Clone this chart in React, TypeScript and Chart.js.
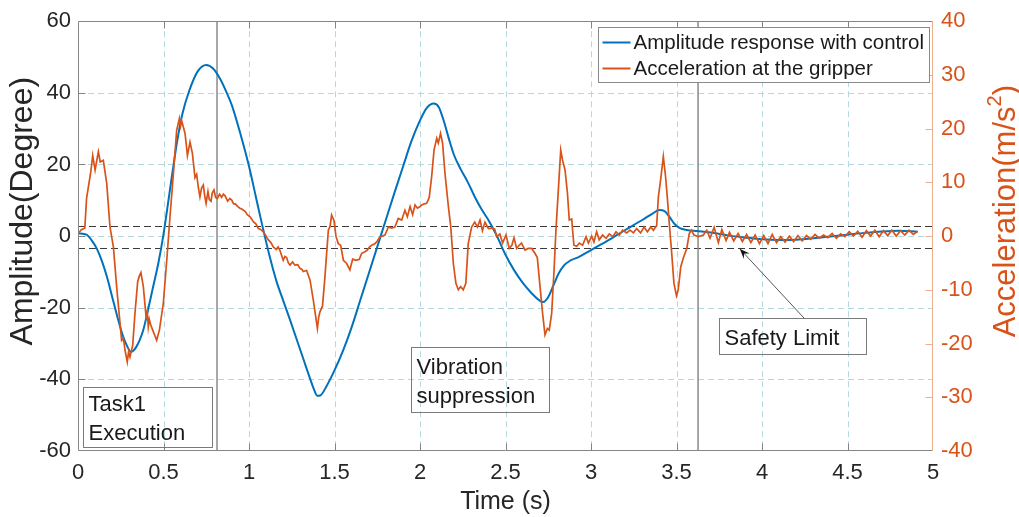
import React, { useEffect, useRef } from 'react';
import { Chart, registerables } from 'chart.js';

Chart.register(...registerables);

const FONT = '"Liberation Sans", Arial, Helvetica, sans-serif';
const BLUE = '#0072BD';
const ORANGE = '#D95319';
const TEXT = '#262626';

// ---- data ----
const seriesLabels = ['Amplitude response with control', 'Acceleration at the gripper'];

const ampTime = [
  0, 0.05, 0.08, 0.11, 0.14, 0.17, 0.20, 0.23, 0.26, 0.29,
  0.31, 0.34, 0.38, 0.41, 0.44, 0.47, 0.50, 0.52, 0.55, 0.58,
  0.61, 0.65, 0.70, 0.75, 0.79, 0.83, 0.87, 0.90, 0.95, 1.00,
  1.04, 1.08, 1.12, 1.16, 1.20, 1.24, 1.28, 1.32, 1.35, 1.38,
  1.40, 1.42, 1.45, 1.50, 1.55, 1.60, 1.65, 1.70, 1.75, 1.80,
  1.85, 1.90, 1.95, 2.00, 2.04, 2.08, 2.11, 2.14, 2.17, 2.20,
  2.24, 2.28, 2.32, 2.36, 2.40, 2.45, 2.50, 2.55, 2.60, 2.65,
  2.70, 2.72, 2.75, 2.78, 2.81, 2.84, 2.88, 2.93, 3.00, 3.10,
  3.20, 3.30, 3.36, 3.40, 3.43, 3.46, 3.49, 3.52, 3.56, 3.62,
  3.70, 3.80, 3.90, 4.00, 4.10, 4.20, 4.30, 4.40, 4.50, 4.60,
  4.70, 4.80, 4.91,
];
const ampValues = [
  0.8, 0.4, -1.2, -3.5, -7, -11.5, -17, -22.5, -27.5, -31,
  -32.3, -31, -26.5, -20.5, -14, -7.5, 0.5, 7, 17, 26.5,
  34, 40.5, 46, 47.8, 46.8, 44, 40, 36.5, 28.5, 19.5,
  11, 2.5, -5.5, -12.5, -18, -23.4, -29, -34.6, -38.8, -42.8,
  -44.6, -44.4, -42.2, -37.5, -32, -25.5, -18, -10.5, -3, 4.5,
  12, 19.3, 26.5, 32.3, 35.8, 37, 36, 32, 27, 22.5,
  18.5, 15, 11, 7.5, 4.5, 0, -5.2, -9.5, -13, -15.8,
  -18, -18.4, -17, -13.8, -10.5, -8.3, -6.8, -5.8, -3.9, -1.2,
  1.7, 4.5, 6.3, 7.3, 7.0, 5.3, 3.3, 2.2, 1.7, 1.4,
  1.0, 0.2, -0.4, -0.9, -1.1, -1.0, -0.6, -0.1, 0.4, 0.9,
  1.3, 1.5, 1.2,
];

const accTime = [
  0.00, 0.02, 0.04, 0.05, 0.06, 0.075, 0.086, 0.10, 0.119, 0.13,
  0.148, 0.168, 0.187, 0.207, 0.226, 0.255, 0.265, 0.275, 0.288, 0.296,
  0.304, 0.32, 0.333, 0.349, 0.358, 0.368, 0.382, 0.398, 0.405, 0.411,
  0.417, 0.425, 0.437, 0.46, 0.476, 0.499, 0.519, 0.538, 0.558, 0.577,
  0.593, 0.6, 0.606, 0.626, 0.64, 0.655, 0.669, 0.684, 0.694, 0.704,
  0.713, 0.723, 0.733, 0.741, 0.749, 0.76, 0.768, 0.778, 0.785, 0.795,
  0.805, 0.815, 0.828, 0.84, 0.85, 0.86, 0.875, 0.888, 0.899, 0.91,
  0.92, 0.935, 0.947, 0.96, 0.977, 0.99, 1.006, 1.015, 1.025, 1.04,
  1.055, 1.07, 1.084, 1.1, 1.113, 1.128, 1.142, 1.16, 1.17, 1.18,
  1.2, 1.21, 1.22, 1.23, 1.24, 1.255, 1.268, 1.285, 1.298, 1.31,
  1.317, 1.337, 1.357, 1.376, 1.39, 1.4, 1.408, 1.415, 1.43, 1.444,
  1.464, 1.474, 1.483, 1.497, 1.509, 1.522, 1.536, 1.552, 1.571, 1.59,
  1.606, 1.626, 1.645, 1.659, 1.678, 1.692, 1.705, 1.717, 1.732, 1.747,
  1.766, 1.78, 1.795, 1.815, 1.834, 1.853, 1.873, 1.893, 1.912, 1.926,
  1.942, 1.957, 1.971, 1.985, 2.0, 2.01, 2.025, 2.039, 2.054, 2.068,
  2.082, 2.098, 2.107, 2.12, 2.132, 2.146, 2.166, 2.18, 2.195, 2.21,
  2.224, 2.238, 2.253, 2.268, 2.282, 2.302, 2.32, 2.336, 2.351, 2.365,
  2.38, 2.4, 2.418, 2.437, 2.448, 2.467, 2.483, 2.503, 2.522, 2.537,
  2.55, 2.565, 2.58, 2.594, 2.614, 2.633, 2.653, 2.672, 2.686, 2.702,
  2.717, 2.731, 2.745, 2.756, 2.77, 2.784, 2.795, 2.809, 2.823, 2.834,
  2.848, 2.862, 2.873, 2.887, 2.9, 2.916, 2.932, 2.951, 2.971, 2.985,
  3.004, 3.017, 3.033, 3.048, 3.068, 3.088, 3.107, 3.127, 3.146, 3.166,
  3.185, 3.209, 3.228, 3.248, 3.267, 3.29, 3.31, 3.33, 3.35, 3.365,
  3.384, 3.394, 3.407, 3.423, 3.436, 3.446, 3.458, 3.472, 3.485, 3.5,
  3.51, 3.525, 3.541, 3.56, 3.575, 3.588, 3.602, 3.628, 3.657, 3.677,
  3.696, 3.72, 3.745, 3.765, 3.79, 3.81, 3.835, 3.86, 3.885, 3.91,
  3.935, 3.96, 3.985, 4.01, 4.035, 4.06, 4.085, 4.11, 4.135, 4.16,
  4.185, 4.21, 4.235, 4.26, 4.285, 4.31, 4.335, 4.36, 4.385, 4.41,
  4.435, 4.46, 4.485, 4.51, 4.535, 4.56, 4.585, 4.61, 4.635, 4.66,
  4.685, 4.71, 4.735, 4.76, 4.785, 4.81, 4.835, 4.86, 4.885, 4.91,
];
const accValues = [
  0.5, 1.2, 1.5, 7, 9, 12, 15, 12.3, 15.7, 13.8,
  14.1, 9.8, 1.7, -2, -9.4, -19.4, -19, -21.2, -23.4, -21.5,
  -22.5, -20.3, -14.4, -8.5, -7.5, -6.8, -9.4, -15, -14, -16.9,
  -15.5, -16.5, -17.5, -19.4, -17.5, -12.5, -4.5, 3.6, 11.7, 19.7,
  21.9, 20.5, 21.5, 19.1, 15, 17.5, 15.4, 10.9, 11.5, 9,
  7.3, 9, 9.5, 7.5, 6.1, 8.3, 6.8, 6.5, 8, 8.6,
  7.2, 7, 7.8, 7.2, 7.8, 7.5, 6.5, 7, 6.7, 6,
  6, 5.5, 5.2, 5, 4.6, 4, 3.6, 3.2, 2.7, 2.3,
  1.4, 1.2, 0.8, 0, -0.7, -1.2, -2, -2.5, -2, -2.6,
  -4.5, -3.8, -4, -5, -5.4, -4.8, -5.4, -5.3, -6, -6.2,
  -6.6, -6.4, -8.2, -11.9, -15, -17.2, -15, -14.1, -13, -7.6,
  1.1, 1.8, 3.9, 2.9, -0.1, -1.4, -1.7, -4.5, -5.1, -6.3,
  -4.3, -4.5, -4.3, -3.2, -2.9, -2.6, -2, -1.7, -1.5, -1.1,
  -0.1, 0, 0.2, 1.7, 1.5, 1.7, 3.3, 3, 4.8, 3.6,
  5.5, 4, 5.8, 5.2, 5.5, 5.8, 6, 6.1, 7.2, 11,
  16, 18.2, 17.3, 19.1, 17.3, 11.7, 5.5, 1.7, -5.1, -8.8,
  -10, -9.4, -10, -8.8, -1.4, 1.7, 2.6, 1.7, 3, 1,
  2.6, 1.4, 1.5, 1.3, -0.1, 0.4, -1.3, 0.2, -2.3, -1.7,
  -0.3, -2.3, -1.7, -1.3, -2.6, -2.3, -2.3, -3.2, -4, -9.4,
  -14.4, -18.4, -17.2, -17.5, -14.4, -6.3, 1.1, 8.6, 16, 14.1,
  12.3, 8.1, 3, 3.2, -1.7, -1.9, -1.3, -1.7, -0.1, -1.3,
  0, -1.1, 0.8, -0.7, 0.2, -0.4, 0.4, -0.1, 0.8, 0.2,
  1.1, 0.6, 1.1, 0.6, 1.4, 0.6, 1.7, 0.8, 1.7, 1.1,
  2, 7.3, 10.4, 14.8, 11.1, 7.3, 2.3, -3.2, -8.8, -11.1,
  -10, -5.7, -4, -2.3, 0.5, 1.1, 0.2, -0.1, 0.2, 1.1,
  -0.4, 1.6, -1.2, 1.2, -0.8, 0.7, -0.9, 0.5, -1, 0.3,
  -1.2, 0.2, -1.4, 0.1, -1.4, 0.3, -1.2, -0.1, -1.1, 0,
  -1, 0.1, -0.9, 0.1, -0.6, 0.3, -0.4, 0.2, -0.3, 0.5,
  -0.4, 0.4, -0.1, 0.8, 0, 0.9, -0.2, 1, 0, 1.1,
  -0.1, 1, 0.1, 1.1, 0, 1, 0.2, 1.1, 0.3, 0.9,
];

const timeTicks = [0, 0.5, 1, 1.5, 2, 2.5, 3, 3.5, 4, 4.5, 5];
const amplitudeTicks = [-60, -40, -20, 0, 20, 40, 60];
const accelerationTicks = [-40, -30, -20, -10, 0, 10, 20, 30, 40];
const safetyLimits = [2.7, -3.4];      // degrees (left axis)
const phaseMarkers = [0.813, 3.626];   // seconds

const annotationBoxes = [
  { lines: ['Task1', 'Execution'], t0: 0.029, t1: 0.784, top: -42.1, bottom: -58.9 },
  { lines: ['Vibration', 'suppression'], t0: 1.947, t1: 2.754, top: -31.0, bottom: -49.1 },
  { lines: ['Safety Limit'], t0: 3.749, t1: 4.608, top: -22.9, bottom: -32.9 },
];
const arrowFrom = { t: 4.246, v: -22.9 };
const arrowTo = { t: 3.871, v: -3.6 };

const fmt = (v: number) => String(v);

const decor = {
  id: 'decor',
  beforeDatasetsDraw(chart: any) {
    const { ctx, chartArea: a, scales } = chart;
    const xs = scales.x, ys = scales.y;
    const line = (x1: number, y1: number, x2: number, y2: number) => {
      ctx.beginPath(); ctx.moveTo(x1, y1); ctx.lineTo(x2, y2); ctx.stroke();
    };
    ctx.save();
    ctx.lineWidth = 1;
    ctx.strokeStyle = '#b4d8de';
    ctx.setLineDash([6, 4]);
    timeTicks.forEach((t) => {
      if (t <= xs.min || t >= xs.max) return;
      const px = Math.round(xs.getPixelForValue(t)) + 0.5;
      line(px, a.top, px, a.bottom);
    });
    amplitudeTicks.forEach((v) => {
      if (v <= ys.min || v >= ys.max) return;
      const py = Math.round(ys.getPixelForValue(v)) + 0.5;
      line(a.left, py, a.right, py);
    });
    ctx.strokeStyle = '#3a3a3a';
    ctx.setLineDash([7, 4]);
    safetyLimits.forEach((v) => {
      const py = Math.round(ys.getPixelForValue(v)) + 0.5;
      line(a.left, py, a.right, py);
    });
    ctx.setLineDash([]);
    ctx.strokeStyle = '#8a8a8a';
    ctx.lineWidth = 1.5;
    phaseMarkers.forEach((t) => {
      const px = xs.getPixelForValue(t);
      line(px, a.top, px, a.bottom);
    });
    ctx.restore();
  },
  afterDatasetsDraw(chart: any) {
    const { ctx, chartArea: a, scales } = chart;
    const xs = scales.x, ys = scales.y, y1 = scales.y1;
    const line = (x1: number, yA: number, x2: number, yB: number) => {
      ctx.beginPath(); ctx.moveTo(x1, yA); ctx.lineTo(x2, yB); ctx.stroke();
    };
    ctx.save();
    ctx.setLineDash([]);
    ctx.lineWidth = 1;
    const L = Math.round(a.left) + 0.5, R = Math.round(a.right) - 0.5;
    const T = Math.round(a.top) + 0.5, B = Math.round(a.bottom) - 0.5;
    const tl = 7;
    // box
    ctx.strokeStyle = '#858585';
    line(L, T, R, T);
    line(L, B, R, B);
    line(L, T, L, B);
    timeTicks.forEach((t) => {
      if (t <= xs.min || t >= xs.max) return;
      const px = Math.round(xs.getPixelForValue(t)) + 0.5;
      line(px, B, px, B - tl);
      line(px, T, px, T + tl);
    });
    amplitudeTicks.forEach((v) => {
      if (v <= ys.min || v >= ys.max) return;
      const py = Math.round(ys.getPixelForValue(v)) + 0.5;
      line(L, py, L + tl, py);
    });
    ctx.strokeStyle = '#eab08f';
    line(R, T, R, B);
    accelerationTicks.forEach((v) => {
      if (v <= y1.min || v >= y1.max) return;
      const py = Math.round(y1.getPixelForValue(v)) + 0.5;
      line(R, py, R - tl, py);
    });

    // annotation boxes (transparent)
    ctx.font = `22px ${FONT}`;
    ctx.textBaseline = 'middle';
    ctx.textAlign = 'left';
    annotationBoxes.forEach((b) => {
      const x0 = Math.round(xs.getPixelForValue(b.t0)) + 0.5;
      const x1 = Math.round(xs.getPixelForValue(b.t1)) + 0.5;
      const yt = Math.round(ys.getPixelForValue(b.top)) + 0.5;
      const yb = Math.round(ys.getPixelForValue(b.bottom)) + 0.5;
      ctx.strokeStyle = '#7a7a7a';
      ctx.strokeRect(x0, yt, x1 - x0, yb - yt);
      ctx.fillStyle = '#1a1a1a';
      const h = yb - yt;
      const n = b.lines.length;
      const lh = 29;
      const startY = yt + h / 2 - ((n - 1) * lh) / 2 + 2;
      b.lines.forEach((s, i) => ctx.fillText(s, x0 + 5, startY + i * lh));
    });

    // arrow
    const ax0 = xs.getPixelForValue(arrowFrom.t), ay0 = ys.getPixelForValue(arrowFrom.v);
    const ax1 = xs.getPixelForValue(arrowTo.t), ay1 = ys.getPixelForValue(arrowTo.v);
    ctx.strokeStyle = '#555';
    ctx.lineWidth = 1;
    line(ax0, ay0, ax1, ay1);
    const ang = Math.atan2(ay1 - ay0, ax1 - ax0);
    const hl = 10, hw = 4;
    ctx.fillStyle = '#111';
    ctx.beginPath();
    ctx.moveTo(ax1, ay1);
    ctx.lineTo(ax1 - hl * Math.cos(ang) + hw * Math.sin(ang), ay1 - hl * Math.sin(ang) - hw * Math.cos(ang));
    ctx.lineTo(ax1 - 0.6 * hl * Math.cos(ang), ay1 - 0.6 * hl * Math.sin(ang));
    ctx.lineTo(ax1 - hl * Math.cos(ang) - hw * Math.sin(ang), ay1 - hl * Math.sin(ang) + hw * Math.cos(ang));
    ctx.closePath();
    ctx.fill();

    // legend
    const lw = 331, lhgt = 55;
    const lx = Math.round(a.right) - 4 - lw + 0.5, ly = Math.round(a.top) + 6 + 0.5;
    ctx.fillStyle = '#ffffff';
    ctx.fillRect(lx, ly, lw, lhgt);
    ctx.strokeStyle = '#8a8a8a';
    ctx.lineWidth = 1;
    ctx.strokeRect(lx, ly, lw, lhgt);
    const colors = [BLUE, ORANGE];
    ctx.font = `20.5px ${FONT}`;
    seriesLabels.forEach((s, i) => {
      const cy = ly + 15 + i * 26;
      ctx.strokeStyle = colors[i];
      ctx.lineWidth = 2;
      line(lx + 4, cy, lx + 32, cy);
      ctx.fillStyle = '#1a1a1a';
      ctx.fillText(s, lx + 35, cy + 1);
    });
    ctx.restore();
  },
  afterDraw(chart: any) {
    const { ctx, chartArea: a } = chart;
    ctx.save();
    // left axis title
    const cyTitle = a.top + (a.bottom - a.top) * 0.442;
    ctx.translate(23, cyTitle);
    ctx.rotate(-Math.PI / 2);
    ctx.font = `32px ${FONT}`;
    ctx.fillStyle = TEXT;
    ctx.textAlign = 'center';
    ctx.textBaseline = 'middle';
    ctx.fillText('Amplitude(Degree)', 0, 0);
    ctx.restore();

    // right axis title with superscript
    ctx.save();
    ctx.translate(1006, cyTitle);
    ctx.rotate(-Math.PI / 2);
    ctx.fillStyle = ORANGE;
    ctx.textBaseline = 'middle';
    ctx.textAlign = 'left';
    const big = `31px ${FONT}`, small = `20px ${FONT}`;
    ctx.font = big;
    const p1 = 'Acceleration(m/s', p3 = ')';
    const w1 = ctx.measureText(p1).width, w3 = ctx.measureText(p3).width;
    ctx.font = small;
    const w2 = ctx.measureText('2').width;
    const total = w1 + w2 + w3;
    let x = -total / 2;
    ctx.font = big;
    ctx.fillText(p1, x, 0);
    x += w1;
    ctx.font = small;
    ctx.fillText('2', x, -11);
    x += w2;
    ctx.font = big;
    ctx.fillText(p3, x, 0);
    ctx.restore();
  },
};

export default function App() {
  const ref = useRef<HTMLCanvasElement>(null);
  useEffect(() => {
    const canvas = ref.current;
    if (!canvas) return;
    const tickFont = { family: FONT, size: 22 };
    const chart = new Chart(canvas, {
      type: 'line',
      data: {
        datasets: [
          {
            label: seriesLabels[0],
            data: ampTime.map((t, i) => ({ x: t, y: ampValues[i] })),
            yAxisID: 'y',
            borderColor: BLUE,
            backgroundColor: BLUE,
            borderWidth: 2,
            pointRadius: 0,
            cubicInterpolationMode: 'monotone',
            order: 2,
          },
          {
            label: seriesLabels[1],
            data: accTime.map((t, i) => ({ x: t, y: accValues[i] })),
            yAxisID: 'y1',
            borderColor: ORANGE,
            backgroundColor: ORANGE,
            borderWidth: 1.7,
            pointRadius: 0,
            tension: 0,
            order: 1,
          },
        ],
      },
      options: {
        animation: false,
        responsive: false,
        devicePixelRatio: 1,
        events: [],
        layout: { padding: { top: 21, left: 0, right: 0, bottom: 0 } },
        plugins: { legend: { display: false }, tooltip: { enabled: false } },
        scales: {
          x: {
            type: 'linear',
            min: 0,
            max: 5,
            afterBuildTicks: (s: any) => { s.ticks = timeTicks.map((v) => ({ value: v })); },
            ticks: { font: tickFont, color: TEXT, padding: 9, autoSkip: false, maxRotation: 0, callback: (v: any) => fmt(Number(v)) },
            grid: { display: false, drawTicks: false },
            border: { display: false },
            title: { display: true, text: 'Time (s)', font: { family: FONT, size: 25, lineHeight: 1 }, color: TEXT, padding: { top: 0, bottom: 2 } },
            afterFit: (s: any) => { s.height = 66; },
          },
          y: {
            type: 'linear',
            position: 'left',
            min: -60,
            max: 60,
            afterBuildTicks: (s: any) => { s.ticks = amplitudeTicks.map((v) => ({ value: v })); },
            ticks: { font: tickFont, color: TEXT, padding: 7, callback: (v: any) => fmt(Number(v)) },
            grid: { display: false, drawTicks: false },
            border: { display: false },
            afterFit: (s: any) => { s.width = 78; },
          },
          y1: {
            type: 'linear',
            position: 'right',
            min: -40,
            max: 40,
            afterBuildTicks: (s: any) => { s.ticks = accelerationTicks.map((v) => ({ value: v })); },
            ticks: { font: tickFont, color: ORANGE, padding: 8, callback: (v: any) => fmt(Number(v)) },
            grid: { display: false, drawTicks: false },
            border: { display: false },
            afterFit: (s: any) => { s.width = 86; },
          },
        },
      } as any,
      plugins: [decor],
    });
    return () => chart.destroy();
  }, []);
  return (
    <div style={{ position: 'fixed', left: 0, top: 0, width: 1019, height: 517, background: '#ffffff' }}>
      <canvas ref={ref} width={1019} height={517} style={{ display: 'block' }} />
    </div>
  );
}
